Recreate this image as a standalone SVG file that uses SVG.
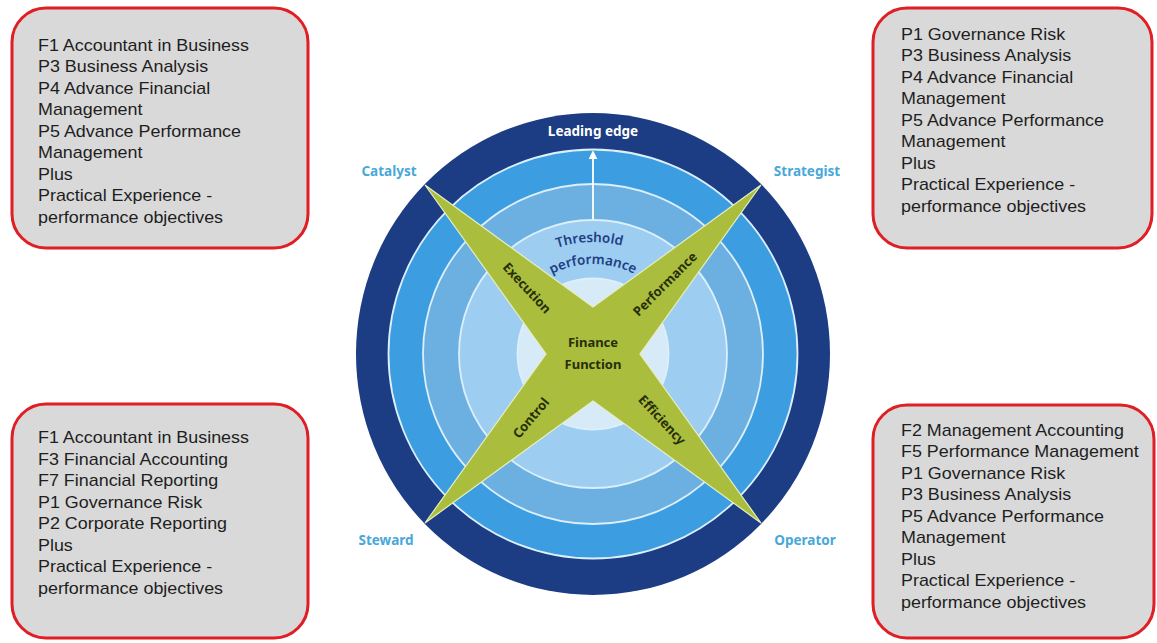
<svg xmlns="http://www.w3.org/2000/svg" width="1157" height="643" viewBox="0 0 1157 643">
<style>
.box{fill:#d9d9d9;stroke:#e01f24;stroke-width:3}
.bt{font-family:"Liberation Sans",Arial,sans-serif;font-size:16px;fill:#1e1e1e}
.role{font-family:"Noto Sans","Open Sans",sans-serif;font-weight:700;font-size:13.5px;fill:#48a8da;text-anchor:middle}
.sep{fill:none;stroke:#dceffb;stroke-width:1.8}
.xt{font-family:"Noto Sans","Open Sans",sans-serif;font-weight:700;font-size:13px;fill:#262f0c;text-anchor:middle}
.th{font-family:"Noto Sans","Open Sans",sans-serif;font-weight:600;font-size:13.5px;fill:#1f3e84;text-anchor:middle}
</style>
<defs>
<path id="arcT" d="M481,354 A112,112 0 0 1 705,354"/>
<path id="arcP" d="M503,354 A90,90 0 0 1 683,354"/>
<marker id="ah" viewBox="0 0 10 10" refX="8" refY="5" markerWidth="5" markerHeight="5" orient="auto">
<path d="M0,0 L10,5 L0,10 z" fill="#ffffff"/>
</marker>
</defs>
<rect width="1157" height="643" fill="#ffffff"/>

<g id="wheel">
<ellipse cx="593" cy="354" rx="237" ry="241" fill="#1c3c84"/>
<circle cx="593" cy="354" r="204.5" fill="#3c9ee0"/>
<circle cx="593" cy="354" r="170" fill="#6cb0e2"/>
<circle cx="593" cy="354" r="134" fill="#9dcdf0"/>
<circle cx="593" cy="354" r="75.5" fill="#d6eaf8"/>
<circle class="sep" cx="593" cy="354" r="204.5"/>
<circle class="sep" cx="593" cy="354" r="170"/>
<circle class="sep" cx="593" cy="354" r="134"/>
<circle class="sep" cx="593" cy="354" r="75.5"/>
<text x="593" y="135.5" font-family="Noto Sans,Open Sans,sans-serif" font-weight="700" font-size="13.5" fill="#ffffff" text-anchor="middle">Leading edge</text>
<text class="th"><textPath href="#arcT" startOffset="49%">Threshold</textPath></text>
<text class="th"><textPath href="#arcP" startOffset="50%">performance</textPath></text>
</g>

<g id="connectors">
<line x1="593" y1="219" x2="593" y2="152" stroke="#ffffff" stroke-width="1.8" marker-end="url(#ah)"/>
</g>

<g id="finance-function">
<polygon points="425,185 593,307 761,185 640,354 761,523 593,401 425,523 546,354" fill="#abbd3c" stroke="#e6eec4" stroke-width="1.2"/>
<text class="xt" x="593" y="347">Finance</text>
<text class="xt" x="593" y="369">Function</text>
<text class="xt" transform="translate(527,288) rotate(47)" dy="4.5">Execution</text>
<text class="xt" transform="translate(665,284) rotate(-45)" dy="4.5">Performance</text>
<text class="xt" transform="translate(531,418) rotate(-50)" dy="4.5">Control</text>
<text class="xt" transform="translate(662,420) rotate(47)" dy="4.5">Efficiency</text>
</g>

<g id="role-labels">
<text class="role" x="389" y="176">Catalyst</text>
<text class="role" x="807" y="176">Strategist</text>
<text class="role" x="386" y="545">Steward</text>
<text class="role" x="805" y="545">Operator</text>
</g>

<g id="box-catalyst">
<rect class="box" x="12" y="8" width="296" height="240" rx="34"/>
<g transform="translate(38,0) scale(1.12,1)">
<text class="bt" x="0" y="51">F1 Accountant in Business</text>
<text class="bt" x="0" y="72.5">P3 Business Analysis</text>
<text class="bt" x="0" y="94">P4 Advance Financial</text>
<text class="bt" x="0" y="115.5">Management</text>
<text class="bt" x="0" y="137">P5 Advance Performance</text>
<text class="bt" x="0" y="158.5">Management</text>
<text class="bt" x="0" y="180">Plus</text>
<text class="bt" x="0" y="201.5">Practical Experience -</text>
<text class="bt" x="0" y="223">performance objectives</text>
</g>
</g>

<g id="box-strategist">
<rect class="box" x="873" y="8" width="279" height="240" rx="34"/>
<g transform="translate(901,0) scale(1.12,1)">
<text class="bt" x="0" y="40">P1 Governance Risk</text>
<text class="bt" x="0" y="61.5">P3 Business Analysis</text>
<text class="bt" x="0" y="83">P4 Advance Financial</text>
<text class="bt" x="0" y="104.5">Management</text>
<text class="bt" x="0" y="126">P5 Advance Performance</text>
<text class="bt" x="0" y="147.5">Management</text>
<text class="bt" x="0" y="169">Plus</text>
<text class="bt" x="0" y="190.5">Practical Experience -</text>
<text class="bt" x="0" y="212">performance objectives</text>
</g>
</g>

<g id="box-steward">
<rect class="box" x="12" y="404" width="296" height="234" rx="34"/>
<g transform="translate(38,0) scale(1.12,1)">
<text class="bt" x="0" y="443.5">F1 Accountant in Business</text>
<text class="bt" x="0" y="465">F3 Financial Accounting</text>
<text class="bt" x="0" y="486.5">F7 Financial Reporting</text>
<text class="bt" x="0" y="508">P1 Governance Risk</text>
<text class="bt" x="0" y="529.5">P2 Corporate Reporting</text>
<text class="bt" x="0" y="551">Plus</text>
<text class="bt" x="0" y="572.5">Practical Experience -</text>
<text class="bt" x="0" y="594">performance objectives</text>
</g>
</g>

<g id="box-operator">
<rect class="box" x="873" y="405" width="281" height="233" rx="34"/>
<g transform="translate(901,0) scale(1.12,1)">
<text class="bt" x="0" y="436">F2 Management Accounting</text>
<text class="bt" x="0" y="457.5">F5 Performance Management</text>
<text class="bt" x="0" y="479">P1 Governance Risk</text>
<text class="bt" x="0" y="500.5">P3 Business Analysis</text>
<text class="bt" x="0" y="522">P5 Advance Performance</text>
<text class="bt" x="0" y="543.5">Management</text>
<text class="bt" x="0" y="565">Plus</text>
<text class="bt" x="0" y="586.5">Practical Experience -</text>
<text class="bt" x="0" y="608">performance objectives</text>
</g>
</g>
</svg>
